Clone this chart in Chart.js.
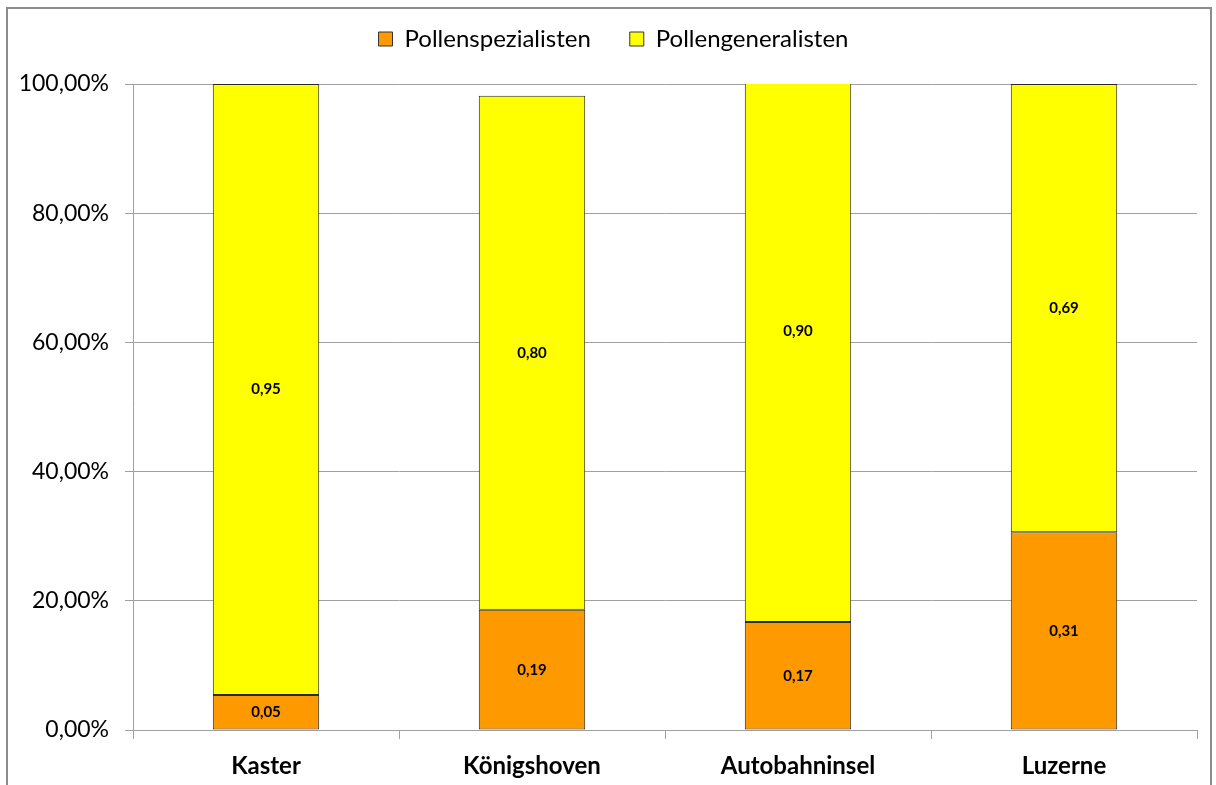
<!DOCTYPE html>
<html>
<head>
<meta charset="utf-8">
<script src="https://cdn.jsdelivr.net/npm/chart.js@4/dist/chart.umd.min.js"></script>
<style>
  html, body { margin: 0; padding: 0; background: #fff; }
  #wrap { position: absolute; left: 0; top: 0; width: 1216px; height: 785px; }
</style>
</head>
<body>
<div id="wrap"><canvas id="chart" width="1216" height="785"></canvas></div>
<script>
// Standorte und Anteile
const categories = ['Kaster', 'Königshoven', 'Autobahninsel', 'Luzerne'];
const spezialisten = [0.054, 0.186, 0.167, 0.306];
const generalisten = [0.946, 0.796, 0.90, 0.694];
const yTicks = [0, 0.2, 0.4, 0.6, 0.8, 1.0];

const FONT = 'Lato, "Open Sans", sans-serif';
const fmtPct = v => (v * 100).toFixed(2).replace('.', ',') + '%';
const fmtVal = v => v.toFixed(2).replace('.', ',');

// Rahmen um das ganze Diagramm
const frame = {
  id: 'frame',
  beforeDraw(chart) {
    const c = chart.ctx;
    c.save();
    c.fillStyle = '#fff';
    c.fillRect(0, 0, chart.width, chart.height);
    c.strokeStyle = '#8c8c8c';
    c.lineWidth = 2;
    c.strokeRect(7, 8, 1204, 800);
    c.restore();
  }
};

// Legende: feste Höhe, Einträge etwas nach oben gerückt
const legendBox = {
  id: 'legendBox',
  beforeInit(chart) {
    const lg = chart.legend;
    const fit = lg.fit;
    lg.fit = function () { fit.call(this); this.height = 84; };
    const draw = lg.draw;
    lg.draw = function () {
      const c = this.ctx;
      c.save();
      c.translate(15, -12);
      draw.call(this);
      c.restore();
    };
  }
};

// Werte mittig in die Balken schreiben
const valueLabels = {
  id: 'valueLabels',
  afterDatasetsDraw(chart) {
    const c = chart.ctx;
    c.save();
    c.font = 'bold 15px ' + FONT;
    c.fillStyle = '#000';
    c.textAlign = 'center';
    c.textBaseline = 'middle';
    chart.data.datasets.forEach((ds, i) => {
      chart.getDatasetMeta(i).data.forEach((bar, j) => {
        const p = bar.getCenterPoint();
        c.fillText(fmtVal(ds.data[j]), p.x, p.y);
      });
    });
    c.restore();
  }
};

const barStyle = { borderColor: '#2a2a2a', borderWidth: 1, borderSkipped: false, barPercentage: 0.4, categoryPercentage: 1 };

new Chart(document.getElementById('chart'), {
  type: 'bar',
  data: {
    labels: categories,
    datasets: [
      { label: 'Pollenspezialisten', data: spezialisten, backgroundColor: '#FF9900', ...barStyle },
      { label: 'Pollengeneralisten', data: generalisten, backgroundColor: '#FFFF00', ...barStyle },
    ],
  },
  options: {
    responsive: false,
    animation: false,
    layout: { padding: { top: 0, right: 19, left: 0, bottom: 0 } },
    plugins: {
      tooltip: { enabled: false },
      legend: {
        position: 'top',
        labels: {
          font: { family: FONT, size: 24 },
          color: '#000',
          boxWidth: 14,
          boxHeight: 14,
          padding: 39,
          generateLabels(chart) {
            return chart.data.datasets.map((ds, i) => ({
              text: ds.label,
              fillStyle: ds.backgroundColor,
              strokeStyle: '#333',
              lineWidth: 1,
              datasetIndex: i,
            }));
          },
        },
      },
    },
    scales: {
      x: {
        stacked: true,
        afterFit: s => { s.height = 55; },
        grid: { offset: true, drawOnChartArea: false, tickLength: 9, color: '#a0a0a0' },
        border: { color: '#a0a0a0' },
        ticks: { font: { family: FONT, size: 24, weight: 'bold' }, color: '#000', padding: 13 },
      },
      y: {
        stacked: true,
        min: 0,
        max: 1,
        afterFit: s => { s.width = 133; },
        afterBuildTicks: s => { s.ticks = yTicks.map(v => ({ value: v })); },
        grid: { color: '#a0a0a0', tickLength: 8 },
        border: { color: '#a0a0a0' },
        ticks: { font: { family: FONT, size: 23 }, color: '#000', padding: 16, callback: v => fmtPct(v) },
      },
    },
  },
  plugins: [frame, legendBox, valueLabels],
});
</script>
</body>
</html>
